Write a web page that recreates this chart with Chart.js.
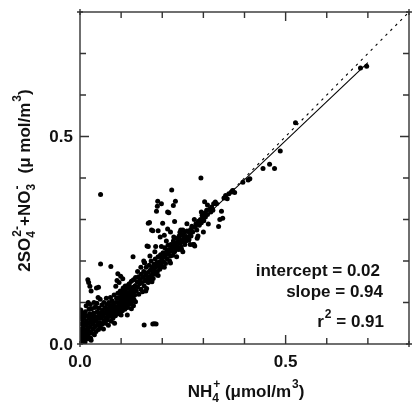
<!DOCTYPE html>
<html lang="en">
<head>
<meta charset="UTF-8">
<title>NH4+ vs 2SO4 2- + NO3-</title>
<style>
  body { margin: 0; background: #fff; }
  #wrap { width: 416px; height: 408px; }
</style>
</head>
<body>
<div id="wrap"><canvas id="scatter" width="416" height="408"></canvas></div>
<script src="https://cdn.jsdelivr.net/npm/chart.js"></script>
<script>
// axis setup
const axisMin = 0, axisMax = 0.8, tickStep = 0.1;
const tickLabels = ['0.0', '0.5'];      // labelled ticks (every 5th)
// regression stats
const fitIntercept = 0.02, fitSlope = 0.94, fitR2 = 0.91;
const fitXRange = [0, 0.7];

const coreObs = [
  [0.002,0.004],[0.004,0.012],[0.003,0.02],[0.006,0.008],[0.005,0.028],[0.002,0.035],[0.007,0.018],
  [0.008,0.04],[0.004,0.048],[0.006,0.058],[0.003,0.066],[0.009,0.026],[0.01,0.012],[0.008,0.05],
  [0.005,0.075],[0.01,0.062],[0.002,0.082],[0.011,0.034],[0.012,0.004],[0.009,0.07],
  [0.013,0.022],[0.014,0.045],[0.015,0.03],[0.016,0.055],[0.017,0.012],[0.018,0.068],[0.013,0.078],
  [0.019,0.038],[0.02,0.02],[0.021,0.05],[0.022,0.062],[0.015,0.092],[0.023,0.03],[0.024,0.073],
  [0.025,0.042],[0.026,0.014],[0.027,0.056],[0.028,0.085],[0.029,0.026],[0.03,0.065],[0.02,0.1],
  [0.027,0.009],[0.022,0.084],[0.017,0.026],[0.025,0.095],
  [0.031,0.036],[0.032,0.048],[0.033,0.075],[0.034,0.058],[0.035,0.022],[0.036,0.088],[0.037,0.042],
  [0.038,0.066],[0.039,0.03],[0.04,0.054],[0.041,0.098],[0.042,0.078],[0.043,0.046],[0.044,0.062],
  [0.045,0.035],[0.046,0.086],[0.047,0.07],[0.048,0.052],[0.049,0.108],[0.05,0.04],[0.051,0.076],
  [0.052,0.062],[0.053,0.094],[0.054,0.048],[0.055,0.082],[0.056,0.068],[0.057,0.036],[0.058,0.1],
  [0.059,0.056],[0.06,0.074],[0.034,0.1],[0.044,0.112],[0.038,0.09],
  [0.061,0.088],[0.062,0.05],[0.063,0.064],[0.064,0.11],[0.065,0.08],[0.066,0.095],[0.067,0.058],
  [0.068,0.072],[0.069,0.045],[0.07,0.1],[0.071,0.086],[0.072,0.066],[0.073,0.078],[0.074,0.112],
  [0.075,0.092],[0.076,0.055],[0.077,0.07],[0.078,0.104],[0.079,0.084],[0.08,0.062],[0.081,0.096],
  [0.082,0.076],[0.083,0.118],[0.084,0.05],[0.085,0.088],[0.086,0.068],[0.087,0.1],[0.088,0.08],
  [0.089,0.11],[0.09,0.09],
  [0.091,0.072],[0.092,0.122],[0.093,0.1],[0.094,0.084],[0.095,0.112],[0.096,0.094],[0.097,0.076],
  [0.098,0.128],[0.099,0.106],[0.1,0.088],[0.101,0.118],[0.102,0.098],[0.103,0.08],[0.104,0.11],
  [0.105,0.126],[0.106,0.092],[0.107,0.104],[0.108,0.116],[0.109,0.084],[0.11,0.13],[0.111,0.1],
  [0.112,0.112],[0.113,0.094],[0.114,0.122],[0.115,0.106],[0.116,0.088],[0.117,0.118],[0.118,0.134],
  [0.119,0.1],[0.12,0.112],[0.121,0.124],[0.122,0.096],[0.123,0.108],[0.124,0.13],[0.125,0.118],
  [0.126,0.102],[0.127,0.136],[0.128,0.114],[0.129,0.124],[0.13,0.092],[0.131,0.108],[0.132,0.13],
  [0.133,0.118],[0.134,0.14],[0.135,0.102]
];

const bandObs = [
  [0.137,0.128],[0.139,0.15],[0.14,0.138],[0.142,0.162],[0.143,0.12],[0.145,0.145],[0.146,0.155],
  [0.148,0.132],[0.149,0.168],[0.15,0.148],[0.152,0.126],[0.153,0.16],[0.155,0.175],[0.156,0.14],
  [0.157,0.196],[0.158,0.152],[0.16,0.166],[0.161,0.185],[0.162,0.134],[0.164,0.158],[0.165,0.172],
  [0.166,0.148],[0.168,0.19],[0.169,0.162],[0.17,0.155],[0.171,0.178],[0.173,0.2],[0.174,0.165],
  [0.175,0.185],[0.177,0.17],[0.178,0.158],[0.18,0.192],[0.181,0.178],[0.183,0.205],[0.184,0.168],
  [0.185,0.186],[0.187,0.196],[0.188,0.175],[0.19,0.21],[0.191,0.188],[0.193,0.198],[0.194,0.18],
  [0.196,0.215],[0.197,0.193],[0.199,0.206],[0.2,0.186],
  [0.202,0.22],[0.203,0.198],[0.205,0.21],[0.206,0.232],[0.208,0.194],[0.209,0.215],[0.211,0.225],
  [0.212,0.205],[0.214,0.238],[0.215,0.218],[0.217,0.228],[0.218,0.2],[0.22,0.212],[0.221,0.24],
  [0.223,0.224],[0.224,0.232],[0.226,0.214],[0.227,0.248],[0.229,0.236],[0.23,0.222],[0.232,0.242],
  [0.233,0.228],[0.235,0.254],[0.236,0.235],[0.238,0.245],[0.24,0.228],[0.241,0.26],[0.243,0.242],
  [0.244,0.25],[0.246,0.234],[0.247,0.228],[0.249,0.262],[0.25,0.246],[0.252,0.255],[0.254,0.268],
  [0.255,0.24],[0.257,0.258],[0.258,0.249],
  [0.26,0.272],[0.262,0.258],[0.264,0.25],[0.265,0.252],[0.267,0.268],[0.269,0.276],[0.27,0.26],
  [0.272,0.284],[0.274,0.27],[0.275,0.24],[0.277,0.24],[0.279,0.236],[0.28,0.282],[0.282,0.29],
  [0.284,0.275],[0.287,0.26],[0.288,0.296],[0.29,0.286],[0.293,0.3],[0.295,0.292],[0.297,0.31],
  [0.299,0.302],[0.301,0.297],[0.303,0.315],[0.305,0.306],[0.308,0.322],[0.31,0.312],[0.312,0.289],
  [0.315,0.325],[0.318,0.318],[0.32,0.33],[0.323,0.322],[0.325,0.338],[0.329,0.342],[0.332,0.338],
  [0.337,0.283],[0.34,0.3],[0.344,0.32],[0.347,0.303],[0.303,0.343]
];

// looser points on either side of the main band
const spreadObs = [
  [0.14,0.175],[0.148,0.185],[0.155,0.2],[0.16,0.128],[0.17,0.212],[0.175,0.15],[0.182,0.222],
  [0.19,0.165],[0.198,0.235],[0.205,0.185],[0.21,0.248],[0.22,0.195],[0.228,0.258],[0.235,0.21],
  [0.245,0.275],[0.25,0.222],[0.26,0.29],[0.268,0.24],[0.278,0.3],[0.285,0.255],[0.295,0.318],
  [0.3,0.27],[0.31,0.335],[0.12,0.145],[0.13,0.155],[0.115,0.07],[0.125,0.085],[0.1,0.07],[0.135,0.16]
];

const highObs = [
  [0.35,0.352],[0.354,0.358],[0.358,0.35],[0.362,0.362],[0.368,0.366],[0.371,0.37],[0.376,0.365],
  [0.396,0.39],[0.409,0.395],[0.413,0.398],[0.445,0.423],[0.461,0.433],[0.473,0.423],[0.487,0.465],
  [0.524,0.533],[0.682,0.665],[0.697,0.669]
];

const outlierObs = [
  [0.05,0.36],[0.294,0.4],[0.223,0.371],[0.189,0.344],[0.198,0.338],[0.188,0.332],[0.186,0.32],
  [0.232,0.344],[0.227,0.334],[0.213,0.318],[0.216,0.316],[0.201,0.291],[0.23,0.295],[0.169,0.293],
  [0.166,0.291],[0.174,0.275],[0.19,0.273],[0.213,0.277],[0.166,0.235],[0.177,0.273],[0.184,0.235],
  [0.195,0.258],[0.205,0.262],[0.22,0.27],[0.243,0.269],[0.25,0.275],[0.129,0.21],[0.157,0.196],
  [0.163,0.236],[0.05,0.193],[0.075,0.187],[0.092,0.169],[0.099,0.163],[0.104,0.157],[0.09,0.153],
  [0.095,0.148],[0.019,0.155],[0.021,0.148],[0.024,0.139],[0.027,0.128],[0.04,0.135],[0.045,0.137],
  [0.125,0.151],[0.118,0.143],[0.11,0.14],[0.105,0.135],[0.087,0.139],
  [0.156,0.046],[0.177,0.048],[0.181,0.049],[0.185,0.048]
];

const allObs = coreObs.concat(bandObs, spreadObs, highObs, outlierObs).map(p => ({x: p[0], y: p[1]}));
const fitLine = fitXRange.map(v => ({x: v, y: fitIntercept + fitSlope * v}));
const oneToOne = [{x: axisMin, y: axisMin}, {x: axisMax, y: axisMax}];

const FONT = '"Liberation Sans", Arial, sans-serif';
const SMALL = 0.72;

// text made of normal ('n'), subscript ('b'), superscript ('p') pieces;
// 'P' is a superscript stacked over the subscript just before it
function pieceFont(k, size) {
  return 'bold ' + (k === 'n' ? size : Math.round(size * SMALL)) + 'px ' + FONT;
}
function richWidth(ctx, parts, size) {
  let w = 0, last = 0;
  parts.forEach(([t, k]) => {
    ctx.font = pieceFont(k, size);
    const tw = ctx.measureText(t).width;
    w += k === 'P' ? Math.max(0, tw - last) + 1 : tw;
    last = tw;
  });
  return w;
}
function drawRich(ctx, parts, x, y, size) {
  let cx = x, last = 0, lastX = x;
  ctx.textAlign = 'left';
  ctx.textBaseline = 'alphabetic';
  parts.forEach(([t, k]) => {
    ctx.font = pieceFont(k, size);
    const tw = ctx.measureText(t).width;
    let dy = 0;
    if (k === 'b') dy = size * 0.32;
    if (k === 'p' || k === 'P') dy = -size * 0.55;
    if (k === 'P') {
      ctx.fillText(t, lastX + 1, y + dy);
      cx = lastX + Math.max(tw, last) + 1;
    } else {
      ctx.fillText(t, cx + (k === 'p' ? 1 : 0), y + dy);
      lastX = cx;
      cx += tw + (k === 'p' ? 1 : 0);
    }
    last = tw;
  });
}

const decorations = {
  id: 'decorations',
  afterDatasetsDraw(chart) {
    const {ctx, chartArea: a, scales: {x, y}} = chart;
    ctx.save();
    ctx.strokeStyle = '#333';
    ctx.lineWidth = 1.4;
    ctx.strokeRect(a.left, a.top, a.right - a.left, a.bottom - a.top);
    // little overhang at corners
    ctx.beginPath();
    [[a.left, a.top], [a.right, a.top], [a.left, a.bottom], [a.right, a.bottom]].forEach(([cx, cy]) => {
      ctx.moveTo(cx - 3, cy); ctx.lineTo(cx + 3, cy);
      ctx.moveTo(cx, cy - 3); ctx.lineTo(cx, cy + 3);
    });
    ctx.stroke();

    // inward ticks on all four sides
    const n = Math.round((axisMax - axisMin) / tickStep);
    ctx.beginPath();
    for (let i = 1; i < n; i++) {
      const v = axisMin + i * tickStep;
      const len = i % 5 === 0 ? 9 : 6;
      const px = x.getPixelForValue(v), py = y.getPixelForValue(v);
      ctx.moveTo(px, a.bottom); ctx.lineTo(px, a.bottom - len);
      ctx.moveTo(px, a.top); ctx.lineTo(px, a.top + len);
      ctx.moveTo(a.left, py); ctx.lineTo(a.left + len, py);
      ctx.moveTo(a.right, py); ctx.lineTo(a.right - len, py);
    }
    ctx.stroke();

    // tick labels
    ctx.fillStyle = '#111';
    ctx.font = 'bold 17px ' + FONT;
    tickLabels.forEach((lab, i) => {
      const v = axisMin + i * 5 * tickStep;
      ctx.textAlign = 'center'; ctx.textBaseline = 'middle';
      ctx.fillText(lab, x.getPixelForValue(v), a.bottom + 18);
      ctx.textAlign = 'right';
      ctx.fillText(lab, a.left - 7, y.getPixelForValue(v) + 1);
    });

    // axis titles
    const xTitle = [['NH', 'n'], ['4', 'b'], ['+', 'P'], [' (', 'n'], ['\u03bc', 'n'], ['mol/m', 'n'], ['3', 'p'], [')', 'n']];
    const yTitle = [['2SO', 'n'], ['4', 'b'], ['2-', 'P'], ['+NO', 'n'], ['3', 'b'], ['-', 'P'], ['  (\u03bc', 'n'], [' mol/m', 'n'], ['3', 'p'], [')', 'n']];
    const xw = richWidth(ctx, xTitle, 17);
    drawRich(ctx, xTitle, (a.left + a.right) / 2 - xw / 2 + 1, 397, 17);
    ctx.save();
    ctx.translate(30, 181);
    ctx.rotate(-Math.PI / 2);
    const yw = richWidth(ctx, yTitle, 17);
    drawRich(ctx, yTitle, -yw / 2, 0, 17);
    ctx.restore();

    // fit statistics
    const rightEdge = 383;
    ctx.font = 'bold 17px ' + FONT;
    ctx.textAlign = 'right'; ctx.textBaseline = 'alphabetic';
    ctx.fillText('intercept = ' + fitIntercept.toFixed(2), rightEdge - 3, 276);
    ctx.fillText('slope = ' + fitSlope.toFixed(2), rightEdge, 297);
    const r2Parts = [['r', 'n'], ['2', 'p'], [' = ' + fitR2.toFixed(2), 'n']];
    const rw = richWidth(ctx, r2Parts, 17);
    drawRich(ctx, r2Parts, rightEdge - rw, 327, 17);
    ctx.restore();
  }
};

new Chart(document.getElementById('scatter'), {
  type: 'scatter',
  data: {
    datasets: [
      {
        type: 'line', data: fitLine, borderColor: '#000', borderWidth: 1.1,
        pointRadius: 0, fill: false
      },
      {
        type: 'line', data: oneToOne, borderColor: '#000', borderWidth: 1.1,
        borderDash: [2.5, 4.5], pointRadius: 0, fill: false
      },
      {
        data: allObs, backgroundColor: '#000', borderWidth: 0, pointRadius: 2.5
      }
    ]
  },
  options: {
    responsive: false,
    animation: false,
    layout: { padding: { left: 80, right: 7, top: 12, bottom: 64 } },
    plugins: { legend: { display: false }, tooltip: { enabled: false } },
    scales: {
      x: { type: 'linear', min: axisMin, max: axisMax, display: false },
      y: { type: 'linear', min: axisMin, max: axisMax, display: false }
    }
  },
  plugins: [decorations]
});
</script>
</body>
</html>
